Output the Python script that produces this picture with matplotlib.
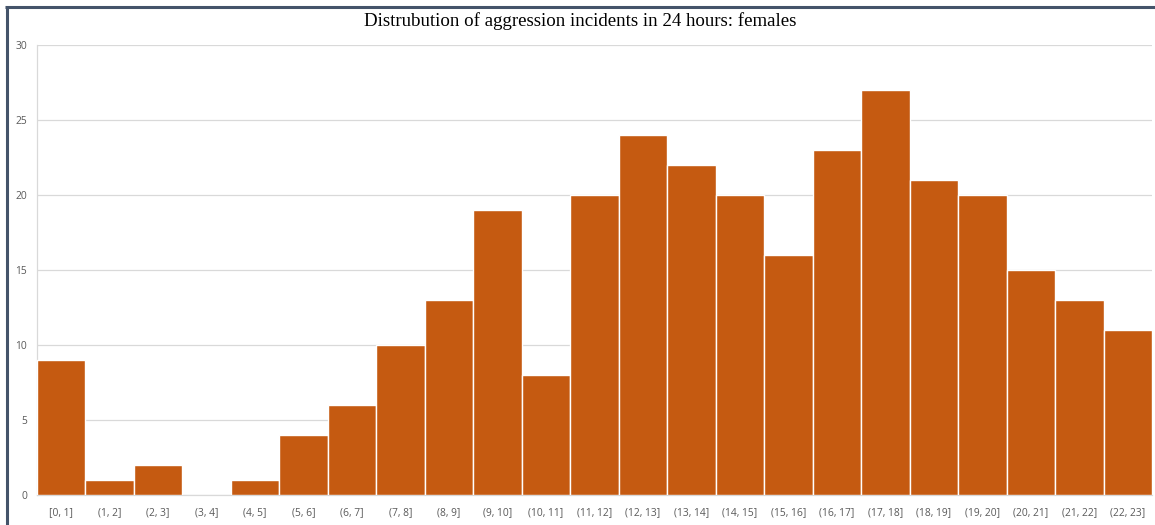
import matplotlib
matplotlib.use("Agg")
import matplotlib.pyplot as plt
from matplotlib.lines import Line2D

# Hourly bins and incident counts
bins = ["[0, 1]", "(1, 2]", "(2, 3]", "(3, 4]", "(4, 5]", "(5, 6]", "(6, 7]",
        "(7, 8]", "(8, 9]", "(9, 10]", "(10, 11]", "(11, 12]", "(12, 13]",
        "(13, 14]", "(14, 15]", "(15, 16]", "(16, 17]", "(17, 18]", "(18, 19]",
        "(19, 20]", "(20, 21]", "(21, 22]", "(22, 23]"]
counts = [9, 1, 2, 0, 1, 4, 6, 10, 13, 19, 8, 20, 24, 22, 20, 16, 23, 27, 21,
          20, 15, 13, 11]
yticks = [0, 5, 10, 15, 20, 25, 30]

title = "Distrubution of aggression incidents in 24 hours: females"

W, H = 1155, 525
fig = plt.figure(figsize=(W / 100, H / 100), dpi=100)
fig.patch.set_facecolor("white")

ax = fig.add_axes([37 / W, 1 - 495 / H, (1152 - 37) / W, (495 - 45) / H])

x = list(range(len(bins)))
ax.bar(x, counts, width=1.0, color="#C55A11", edgecolor="white",
       linewidth=1.0, zorder=3)

ax.set_xlim(-0.5, len(bins) - 0.5)
ax.set_ylim(0, 30)
ax.set_yticks(yticks)
ax.set_xticks(x)
ax.set_xticklabels(bins)

tick_family = ["Open Sans", "DejaVu Sans"]
for lbl in ax.get_xticklabels() + ax.get_yticklabels():
    lbl.set_fontfamily(tick_family)
    lbl.set_fontsize(7.4)
    lbl.set_color("#595959")

ax.tick_params(axis="both", length=0)
ax.tick_params(axis="x", pad=9)
ax.tick_params(axis="y", pad=7)

ax.grid(axis="y", color="#D9D9D9", linewidth=0.9, zorder=0)
for side in ["top", "right"]:
    ax.spines[side].set_visible(False)
for side in ["left", "bottom"]:
    ax.spines[side].set_color("#D9D9D9")
    ax.spines[side].set_linewidth(0.9)

fig.text(580 / W, 1 - 21 / H, title, ha="center", va="center",
         fontfamily=["Liberation Serif", "DejaVu Serif"], fontsize=13.6,
         color="#000000")

# Frame lines along the left and top edges
fig.add_artist(Line2D([6.5 / W, 6.5 / W], [0, 1 - 6 / H],
                      transform=fig.transFigure, color="#44546A", linewidth=2.2,
                      solid_capstyle="butt"))
fig.add_artist(Line2D([5.4 / W, 1], [1 - 6.5 / H, 1 - 6.5 / H],
                      transform=fig.transFigure, color="#44546A", linewidth=2.2,
                      solid_capstyle="butt"))

fig.savefig("out.png", dpi=100, facecolor="white")
